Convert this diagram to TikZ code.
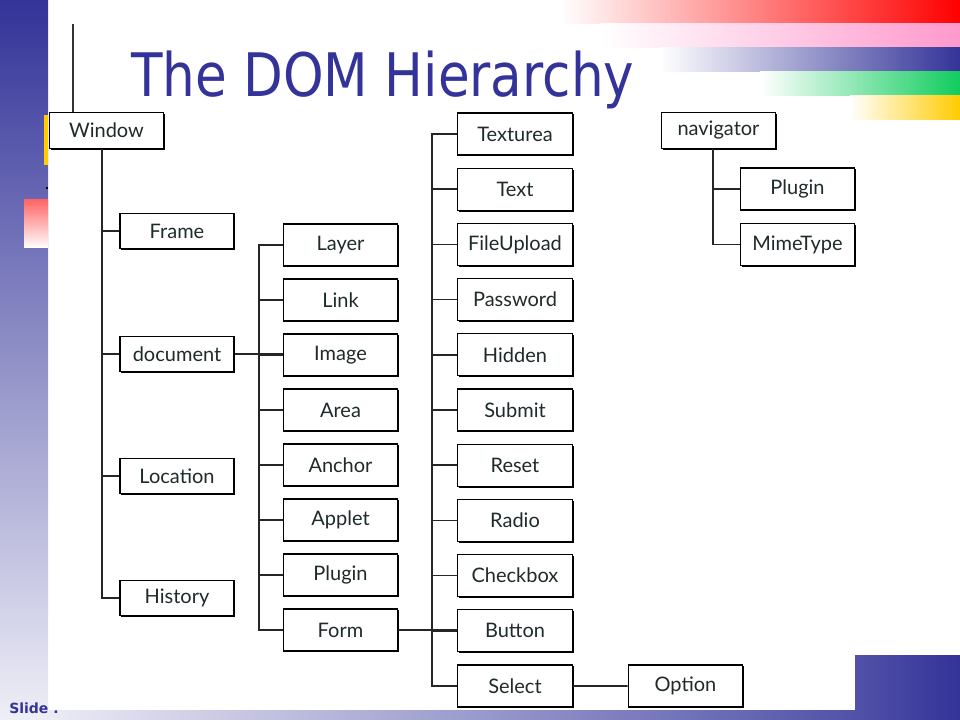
\documentclass[tikz,border=0pt]{standalone}
\usepackage{fontspec}
\usepackage{graphicx}
\setmainfont{Lato}
\newfontfamily\titlefont{DejaVu Sans}
\usetikzlibrary{shadows}
\definecolor{slideblue}{HTML}{333399}
\definecolor{inkgray}{HTML}{1E2B2B}
\definecolor{stripepink}{HTML}{FF99CC}
\definecolor{stripegreen}{HTML}{11CC5E}
\definecolor{stripeyellow}{HTML}{FFCC00}

\begin{document}
\begin{tikzpicture}[x=0.75pt,y=-0.75pt]
            \tikzset{obj/.style = {shape=rectangle, draw=black, line width=0.9pt, fill=white, minimum width=86pt, minimum height=31.5pt, inner sep=0pt, text=inkgray, font=\fontsize{15}{17}\selectfont, drop shadow={shadow xshift=1.1pt, shadow yshift=-1.1pt, fill=black, opacity=1}}}
            \tikzset{flat/.style = {obj, minimum width=85.5pt, minimum height=26.5pt}}
            \tikzset{edge/.style = {draw=black!85, line width=1.2pt}}
            \useasboundingbox (0,0) rectangle (960,720);
            % slide background
            \shade[top color=slideblue, bottom color=slideblue!8] (0,0) rectangle (48,720);
            \shade[left color=white, right color=red] (560,0) rectangle (960,24);
            \shade[left color=white, right color=stripepink] (600,24) rectangle (960,48);
            \shade[left color=white, right color=slideblue] (660,48) rectangle (960,72);
            \shade[left color=white, right color=stripegreen] (760,72) rectangle (960,96);
            \shade[left color=white, right color=stripeyellow] (850,96) rectangle (960,120);
            \shade[left color=slideblue!8, right color=slideblue!85] (30,710) rectangle (855,720);
            \shade[left color=slideblue!85, right color=slideblue] (855,655) rectangle (960,720);
            \fill[stripeyellow] (44,115) rectangle (48,165);
            \shade[top color=red!60, bottom color=white] (24,200) rectangle (48,248);
            \fill[black] (46,187) rectangle (48,189);
            \draw[black!80, line width=1.8pt] (73,24) -- (73,112);
            % title
            \node[anchor=base west, inner sep=0pt, text=slideblue, font=\titlefont\fontsize{45}{50}\selectfont] (title) at (131,97) {\scalebox{0.86}[1]{The DOM Hierarchy}};
            \node[anchor=base west, inner sep=0pt, text=slideblue, font=\titlefont\bfseries\fontsize{10.5}{12}\selectfont] (slidetag) at (9,713) {Slide .};
            % vertices
            \node[flat] (win) at (106.5,130.5) {Window};
            \node[flat] (frame) at (177,231) {Frame};
            \node[flat] (doc) at (177,354) {document};
            \node[flat] (loc) at (177,476) {Location};
            \node[flat] (hist) at (177,598) {History};
            \foreach \name/\txt [count=\i from 0] in {layer/Layer, link/Link, image/Image, area/Area, anchor/Anchor, applet/Applet, plugin/Plugin, form/Form}
                \node[obj] (\name) at (340.5,245+55*\i) {\txt};
            \foreach \name/\txt [count=\i from 0] in {texturea/Texturea, text/Text, upload/FileUpload, password/Password, hidden/Hidden, submit/Submit, reset/Reset, radio/Radio, checkbox/Checkbox, button/Button, select/Select}
                \node[obj] (\name) at (515,134+55.2*\i) {\txt};
            \node[obj] (option) at (685.5,686) {Option};
            \node[flat] (nav) at (718.5,130.5) {navigator};
            \node[obj] (navplugin) at (797.5,189) {Plugin};
            \node[obj] (mime) at (797.5,244.5) {MimeType};
            % edges
            \coordinate (sp2) at (259,0);
            \coordinate (sp3) at (432,0);
            \foreach \n in {frame,doc,loc,hist}
                \draw[edge] ([xshift=-3.4pt]win.south) |- (\n.west);
            \draw[edge] (doc.east) -- (doc.east -| image.west);
            \foreach \n in {layer,link,image,area,anchor,applet,plugin,form}
                \draw[edge] (sp2 |- doc.east) |- (\n.west);
            \draw[edge] (form.east) -- (form.east -| button.west);
            \foreach \n in {texturea,text,upload,password,hidden,submit,reset,radio,checkbox,button,select}
                \draw[edge] (sp3 |- form.east) |- (\n.west);
            \draw[edge] (select) -- (option);
            \draw[edge] ([xshift=-4.1pt]nav.south) |- (navplugin.west);
            \draw[edge] ([xshift=-4.1pt]nav.south) |- (mime.west);
        \end{tikzpicture}
\end{document}
